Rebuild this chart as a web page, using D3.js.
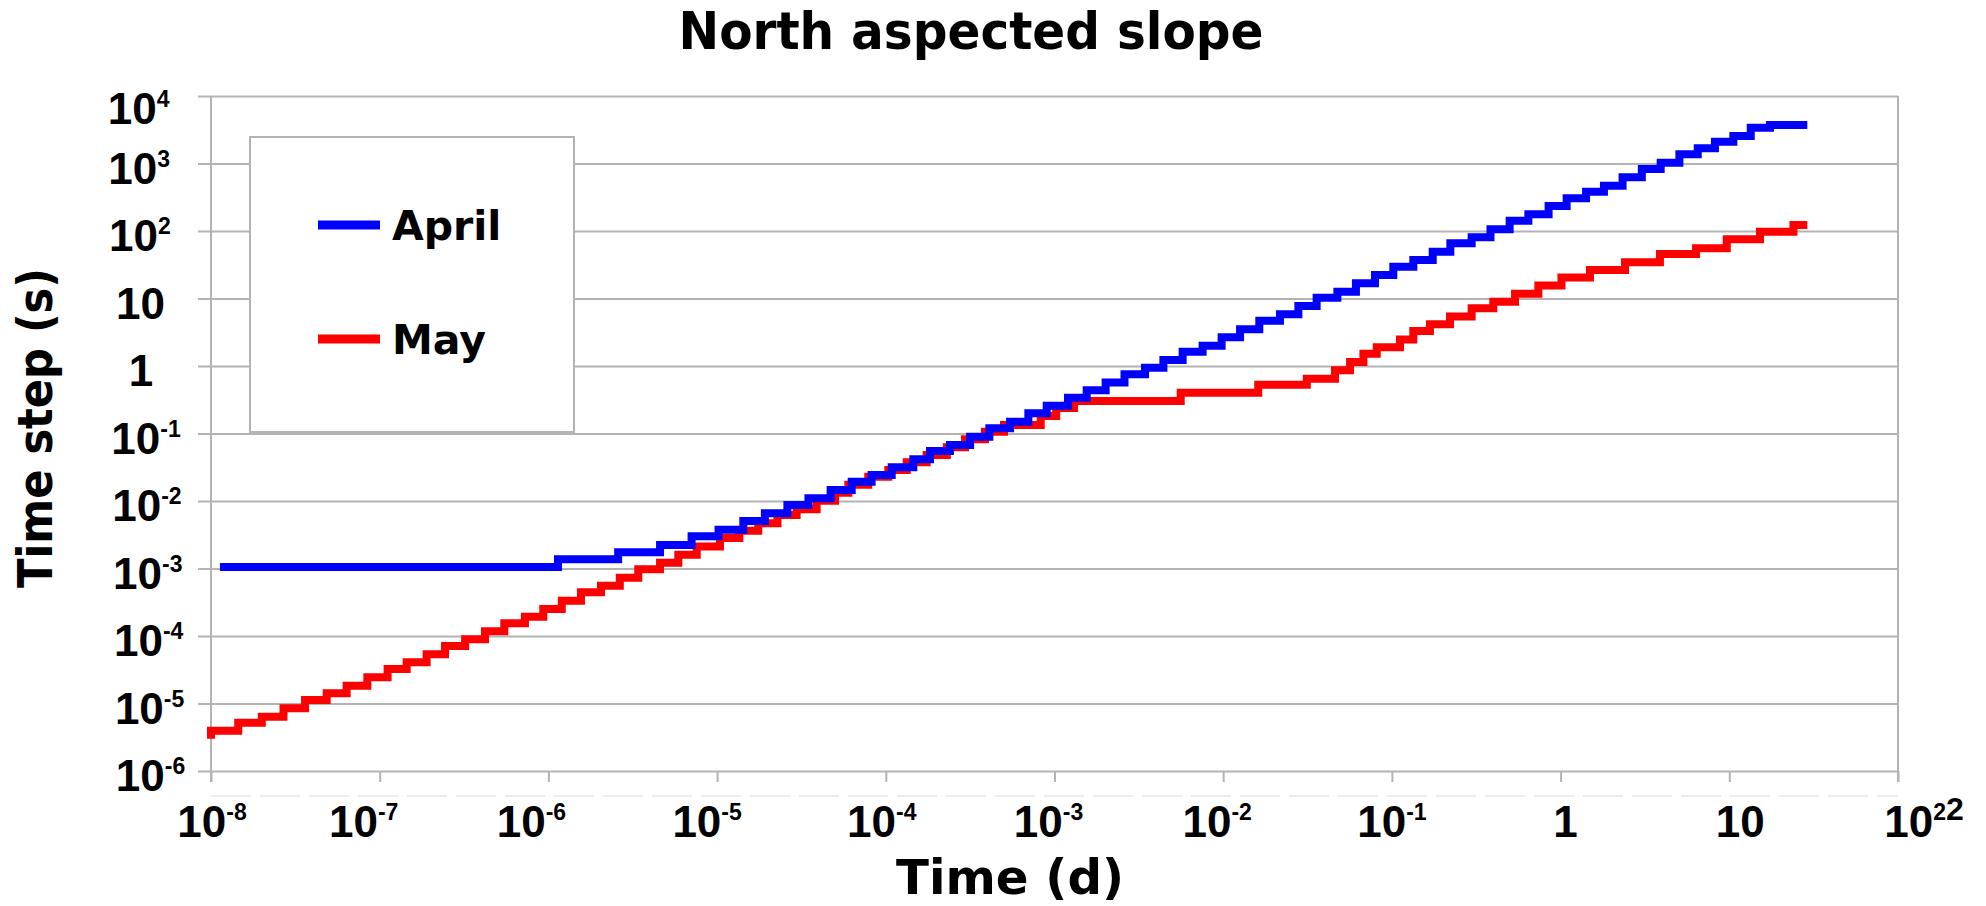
<!DOCTYPE html>
<html><head><meta charset="utf-8">
<script src="https://cdn.jsdelivr.net/npm/d3@7"></script>
<style>html,body{margin:0;padding:0;background:#fff;} svg{display:block;}</style>
</head><body>
<svg id="chart" width="1986" height="906"></svg>
<script>
// ---------- data ----------
const chartTitle = "North aspected slope";
const xTitle = "Time (d)";
const yTitle = "Time step (s)";
const seriesNames = ["April", "May"];
const seriesColors = ["#0000ff", "#ff0000"];
const xTickExponents = [-8, -7, -6, -5, -4, -3, -2, -1, 0, 1, 2];
const yTickExponents = [-6, -5, -4, -3, -2, -1, 0, 1, 2, 3, 4];

const aprilTime = [1.13e-8, 1.14e-6, 2.59e-6, 4.59e-6, 7.06e-6, 1.02e-5, 1.43e-5, 1.92e-5, 2.61e-5, 3.48e-5,
  4.71e-5, 6.28e-5, 8.24e-5, 1.084e-4, 1.456e-4, 1.828e-4, 2.40e-4, 3.16e-4, 4.11e-4, 5.45e-4,
  7.00e-4, 8.99e-4, 1.202e-3, 1.552e-3, 2.01e-3, 2.60e-3, 3.44e-3, 4.42e-3, 5.75e-3, 7.55e-3,
  9.79e-3, 1.259e-2, 1.637e-2, 2.17e-2, 2.79e-2, 3.58e-2, 4.75e-2, 6.12e-2, 7.94e-2, 0.1019,
  0.134, 0.1746, 0.222, 0.297, 0.384, 0.499, 0.644, 0.849, 1.086, 1.416,
  1.807, 2.33, 3.03, 3.92, 5.06, 6.50, 8.22, 10.57, 13.40, 17.42, 29.0];
const aprilStep = [1.05e-3, 1.37e-3, 1.74e-3, 2.23e-3, 3.00e-3, 3.76e-3, 5.06e-3, 6.56e-3, 8.73e-3, 1.096e-2,
  1.456e-2, 1.932e-2, 2.43e-2, 3.16e-2, 4.14e-2, 5.51e-2, 6.76e-2, 8.97e-2, 0.1194, 0.1496,
  0.199, 0.258, 0.340, 0.436, 0.569, 0.757, 0.940, 1.227, 1.629, 2.00,
  2.66, 3.49, 4.70, 5.82, 7.74, 10.28, 12.6, 16.8, 22.3, 29.6,
  37.2, 49.4, 65.6, 80.5, 105.9, 142.2, 176.6, 234, 305, 383,
  470, 624, 830, 1028, 1368, 1679, 2104, 2553, 3396, 3715, 3715];

const mayTime = [1.0e-8, 1.0e-8, 1.45e-8, 2.00e-8, 2.69e-8, 3.61e-8, 4.85e-8, 6.37e-8, 8.45e-8, 1.114e-7,
  1.445e-7, 1.897e-7, 2.44e-7, 3.21e-7, 4.21e-7, 5.48e-7, 7.26e-7, 9.33e-7, 1.20e-6, 1.56e-6,
  2.05e-6, 2.65e-6, 3.41e-6, 4.59e-6, 5.89e-6, 7.57e-6, 1.04e-5, 1.355e-5, 1.754e-5, 2.28e-5,
  2.96e-5, 3.89e-5, 5.00e-5, 6.00e-5, 7.87e-5, 1.035e-4, 1.330e-4, 1.746e-4, 2.30e-4, 2.95e-4,
  3.87e-4, 5.02e-4, 8.28e-4, 1.023e-3, 1.306e-3, 5.60e-3, 1.614e-2, 3.13e-2, 4.60e-2, 5.65e-2,
  6.78e-2, 8.13e-2, 0.1117, 0.134, 0.168, 0.221, 0.297, 0.399, 0.537, 0.738,
  1.012, 1.493, 2.41, 3.88, 6.35, 9.66, 15.2, 24.0, 29.0];
const mayStep = [3.0e-6, 3.96e-6, 5.20e-6, 6.38e-6, 8.47e-6, 1.127e-5, 1.416e-5, 1.837e-5, 2.44e-5, 3.24e-5,
  4.07e-5, 5.35e-5, 7.11e-5, 8.93e-5, 1.172e-4, 1.542e-4, 1.932e-4, 2.51e-4, 3.33e-4, 4.44e-4,
  5.57e-4, 7.31e-4, 9.73e-4, 1.219e-3, 1.603e-3, 2.11e-3, 2.83e-3, 3.63e-3, 4.67e-3, 6.21e-3,
  7.53e-3, 1.012e-2, 1.327e-2, 1.746e-2, 2.29e-2, 2.88e-2, 3.74e-2, 4.80e-2, 6.24e-2, 8.20e-2,
  0.1064, 0.1337, 0.1816, 0.239, 0.304, 0.403, 0.528, 0.649, 0.863, 1.146,
  1.524, 1.892, 2.48, 3.30, 4.14, 5.41, 7.16, 8.93, 11.75, 15.6,
  20.5, 26.4, 34.4, 45.6, 55.3, 75.3, 97.7, 122.7, 122.7];

// ---------- layout ----------
const W = 1986, H = 906;
const M = {left: 211, right: 1898, top: 96, bottom: 771};
const GRID = "#b3b3b3";
const TITLE_FONT = "'DejaVu Sans', Verdana, sans-serif";
const TICK_FONT = "'Liberation Sans', Arial, sans-serif";
const LINE_W = 8;
// small label offsets observed in the reference rendering
const xLabelNudge = [1, -16, -17, -10, -4, -6, -6, 0, 5, 11, 26];

const x = d3.scaleLog().domain([1e-8, 1e2]).range([M.left, M.right]);
const y = d3.scaleLog().domain([1e-6, 1e4]).range([M.bottom, M.top]);

const svg = d3.select("#chart");
svg.append("rect").attr("width", W).attr("height", H).attr("fill", "#fff");

const yTickVals = yTickExponents.map(e => Math.pow(10, e));
const xTickVals = xTickExponents.map(e => Math.pow(10, e));

// horizontal gridlines (with short outward ticks) via axis
const gy = svg.append("g").attr("transform", `translate(${M.left},0)`)
  .call(d3.axisLeft(y).tickValues(yTickVals).tickSizeInner(-(M.right - M.left)).tickSizeOuter(0).tickFormat(""));
gy.select(".domain").remove();
gy.selectAll(".tick line").attr("x1", -13).attr("stroke", GRID).attr("stroke-width", 2);

const gx = svg.append("g").attr("transform", `translate(0,${M.bottom})`)
  .call(d3.axisBottom(x).tickValues(xTickVals).tickSize(11).tickFormat(""));
gx.select(".domain").remove();
gx.selectAll(".tick line").attr("stroke", GRID).attr("stroke-width", 2);

// frame sides
svg.append("line").attr("x1", M.left).attr("x2", M.left).attr("y1", M.top).attr("y2", M.bottom + 11)
  .attr("stroke", GRID).attr("stroke-width", 2);
svg.append("line").attr("x1", M.right).attr("x2", M.right).attr("y1", M.top).attr("y2", M.bottom + 11)
  .attr("stroke", GRID).attr("stroke-width", 2);

// faint dashed line under the axis
svg.append("line").attr("x1", M.left).attr("x2", M.right).attr("y1", M.bottom + 25).attr("y2", M.bottom + 25)
  .attr("stroke", "#e6e6e6").attr("stroke-width", 1.5).attr("stroke-dasharray", "40,9");

// ---------- series ----------
const line = d3.line().x(d => x(d[0])).y(d => y(d[1])).curve(d3.curveStepAfter);
const aprilData = aprilTime.map((t, i) => [t, aprilStep[i]]);
const mayData = mayTime.map((t, i) => [t, mayStep[i]]);

svg.append("path").datum(mayData).attr("d", line).attr("fill", "none")
  .attr("stroke", seriesColors[1]).attr("stroke-width", LINE_W).attr("stroke-linejoin", "miter").attr("stroke-linecap", "butt");
svg.append("path").datum(aprilData).attr("d", line).attr("fill", "none")
  .attr("stroke", seriesColors[0]).attr("stroke-width", LINE_W).attr("stroke-linejoin", "miter").attr("stroke-linecap", "butt");

// ---------- tick labels ----------
function powLabel(sel, e, extra) {
  if (e === 0) { sel.append("tspan").text("1"); return; }
  if (e === 1) { sel.append("tspan").text("10"); return; }
  sel.append("tspan").text("10");
  sel.append("tspan").attr("font-size", 23).attr("dy", -16.7).text(String(e));
  if (extra) sel.append("tspan").attr("font-size", 32).text(extra);
}

xTickExponents.forEach((e, i) => {
  const t = svg.append("text")
    .attr("x", x(xTickVals[i]) + xLabelNudge[i]).attr("y", 837)
    .attr("text-anchor", "middle").attr("font-family", TICK_FONT).attr("font-weight", "bold")
    .attr("font-size", 44).attr("fill", "#000");
  powLabel(t, e, i === xTickExponents.length - 1 ? "2" : null);
});

yTickExponents.forEach((e, i) => {
  const cx = e < 0 ? 146 + (-e - 1) * 0.9 : 141 - e * 0.6;
  const t = svg.append("text")
    .attr("x", cx).attr("y", y(yTickVals[i]) + (e === 4 ? 28 : 20))
    .attr("text-anchor", "middle").attr("font-family", TICK_FONT).attr("font-weight", "bold")
    .attr("font-size", 44).attr("fill", "#000");
  powLabel(t, e, null);
});

// ---------- titles ----------
svg.append("text").attr("x", 971).attr("y", 49).attr("text-anchor", "middle")
  .attr("font-family", TITLE_FONT).attr("font-weight", "bold").attr("font-size", 51)
  .attr("textLength", 585).attr("lengthAdjust", "spacingAndGlyphs").text(chartTitle);

svg.append("text").attr("x", 1010).attr("y", 894).attr("text-anchor", "middle")
  .attr("font-family", TITLE_FONT).attr("font-weight", "bold").attr("font-size", 48)
  .attr("textLength", 228).attr("lengthAdjust", "spacingAndGlyphs").text(xTitle);

svg.append("text").attr("transform", "translate(52,428) rotate(-90)").attr("text-anchor", "middle")
  .attr("font-family", TITLE_FONT).attr("font-weight", "bold").attr("font-size", 48)
  .attr("textLength", 320).attr("lengthAdjust", "spacingAndGlyphs").text(yTitle);

// ---------- legend ----------
const lg = svg.append("g");
lg.append("rect").attr("x", 250).attr("y", 137).attr("width", 324).attr("height", 295)
  .attr("fill", "#fff").attr("stroke", GRID).attr("stroke-width", 2);
const legendY = [225, 339];
seriesNames.forEach((name, i) => {
  lg.append("line").attr("x1", 318).attr("x2", 380).attr("y1", legendY[i]).attr("y2", legendY[i])
    .attr("stroke", seriesColors[i]).attr("stroke-width", 9);
  lg.append("text").attr("x", 392).attr("y", legendY[i] + 15)
    .attr("font-family", TITLE_FONT).attr("font-weight", "bold").attr("font-size", 41)
    .attr("fill", "#000").text(name);
});
</script>
</body></html>
